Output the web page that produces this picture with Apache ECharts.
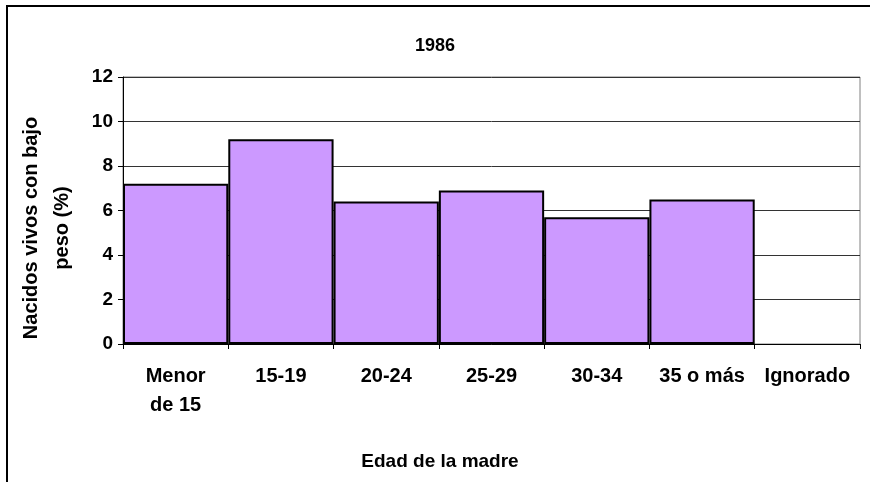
<!DOCTYPE html>
<html lang="es">
<head>
    <meta charset="UTF-8"/>
    <script src="https://cdn.jsdelivr.net/npm/echarts@6/dist/echarts.min.js"></script>
    <title>1986</title>
    <style>
        html, body { margin: 0; padding: 0; background: #fff; }
    </style>
</head>
<body>
<div id="main" style="width: 870px;height:482px;"></div>
<script type="text/javascript">
    // datos
    var categorias = ['Menor\nde 15', '15-19', '20-24', '25-29', '30-34', '35 o más', 'Ignorado'];
    var porcentajes = [7.2, 9.2, 6.4, 6.9, 5.7, 6.5, null];
    var ticksY = [0, 2, 4, 6, 8, 10, 12];

    var fuente = '"Liberation Sans", Arial, sans-serif';

    var myChart = echarts.init(document.getElementById('main'));

    var option = {
        backgroundColor: '#ffffff',
        animation: false,
        title: {
            text: '1986',
            left: 'center',
            top: 32,
            textStyle: {
                fontFamily: fuente,
                fontWeight: 'bold',
                fontSize: 18,
                color: '#000'
            }
        },
        grid: {
            left: 123,
            right: 10,
            top: 77,
            bottom: 138,
            show: true,
            borderColor: '#808080',
            borderWidth: 1
        },
        xAxis: {
            type: 'category',
            data: categorias,
            axisLine: { lineStyle: { color: '#000', width: 1 } },
            axisTick: { show: true, length: 5, lineStyle: { color: '#000' } },
            axisLabel: {
                interval: 0,
                margin: 18,
                fontFamily: fuente,
                fontWeight: 'bold',
                fontSize: 20,
                lineHeight: 29,
                color: '#000'
            }
        },
        yAxis: {
            type: 'value',
            min: ticksY[0],
            max: ticksY[ticksY.length - 1],
            interval: 2,
            axisLine: { show: true, lineStyle: { color: '#000', width: 1 } },
            axisTick: { show: true, length: 5, lineStyle: { color: '#000' } },
            axisLabel: {
                margin: 10,
                fontFamily: fuente,
                fontWeight: 'bold',
                fontSize: 19,
                color: '#000'
            },
            splitLine: { lineStyle: { color: '#333', width: 1 } }
        },
        series: [
            {
                type: 'bar',
                data: porcentajes,
                barCategoryGap: 0,
                itemStyle: {
                    color: '#CC99FF',
                    borderColor: '#000',
                    borderWidth: 2
                }
            }
        ],
        graphic: [
            {
                // marco exterior del grafico
                type: 'rect',
                shape: { x: 7, y: 6, width: 900, height: 520 },
                style: { fill: 'none', stroke: '#000', lineWidth: 2 },
                silent: true
            },
            {
                type: 'text',
                x: 47,
                y: 228,
                rotation: Math.PI / 2,
                style: {
                    text: 'Nacidos vivos con bajo\npeso (%)',
                    fontFamily: fuente,
                    fontWeight: 'bold',
                    fontSize: 20,
                    lineHeight: 31,
                    fill: '#000',
                    align: 'center',
                    verticalAlign: 'middle'
                }
            },
            {
                type: 'text',
                x: 440,
                y: 462,
                style: {
                    text: 'Edad de la madre',
                    fontFamily: fuente,
                    fontWeight: 'bold',
                    fontSize: 19,
                    fill: '#000',
                    align: 'center',
                    verticalAlign: 'middle'
                }
            }
        ]
    };

    myChart.setOption(option);
</script>
</body>
</html>
